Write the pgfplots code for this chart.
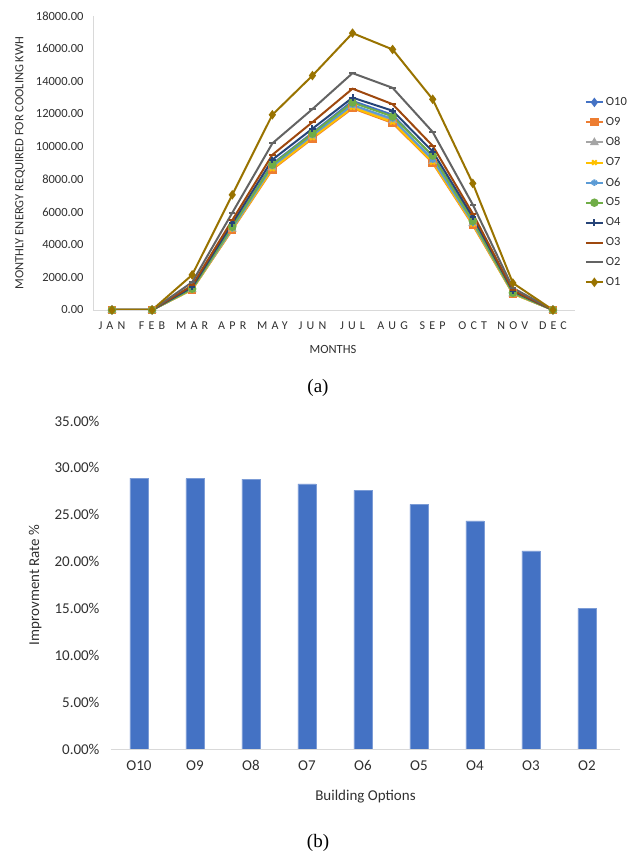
\documentclass[border=0pt]{standalone}
\usepackage{pgfplots}
\pgfplotsset{compat=1.18}
\usepackage{fontspec}
\setmainfont{Carlito}
\newfontfamily\serif{Liberation Serif}
\newfontfamily\monthfont{Carlito}[LetterSpace=35]
\definecolor{cO10}{HTML}{4472C4}
\definecolor{cO9}{HTML}{ED7D31}
\definecolor{cO8}{HTML}{A5A5A5}
\definecolor{cO7}{HTML}{FFC000}
\definecolor{cO6}{HTML}{5B9BD5}
\definecolor{cO5}{HTML}{70AD47}
\definecolor{cO4}{HTML}{264478}
\definecolor{cO3}{HTML}{9E480E}
\definecolor{cO2}{HTML}{636363}
\definecolor{cO1}{HTML}{997300}
\definecolor{txt}{HTML}{303030}
\definecolor{axl}{HTML}{D9D9D9}
\begin{document}
\begin{tikzpicture}[x=1pt,y=1pt]
\path[use as bounding box] (0,0) rectangle (635,856);
\begin{axis}[
  at={(93pt,546pt)}, anchor=south west,
  scale only axis, width=482pt, height=294pt,
  xmin=-0.474, xmax=11.55, ymin=0, ymax=18000,
  xtick={0,...,11},
  xticklabels={JAN,FEB,MAR,APR,MAY,JUN,JUL,AUG,SEP,OCT,NOV,DEC},
  xticklabel style={font=\fontsize{12}{14}\monthfont, text=txt, yshift=-8pt},
  ytick={0,2000,...,18000},
  yticklabel style={font=\fontsize{12.5}{14}\selectfont, text=txt, xshift=-6pt},
  /pgf/number format/assume math mode=true,
  yticklabel={\pgfmathprintnumber[fixed,fixed zerofill,precision=2,1000 sep={}]{\tick}},
  scaled y ticks=false,
  major tick length=0pt,
  axis x line*=bottom, axis y line*=left,
  axis line style={draw=axl, line width=0.8pt, -},
  xlabel={MONTHS},
  ylabel={MONTHLY ENERGY REQUIRED FOR COOLING KWH},
  every axis x label/.style={at={(axis description cs:0.498,-0.133)}, anchor=center, font=\fontsize{12.5}{14}\selectfont, text=txt},
  every axis y label/.style={at={(axis description cs:-0.151,0.5)}, rotate=90, anchor=center, font=\fontsize{12.5}{14}\selectfont, text=txt},
  legend style={at={(1.02,0.73)}, anchor=north west, draw=none, fill=none,
    font=\fontsize{12.5}{14}\selectfont, text=txt, row sep=6.3pt, inner sep=0pt},
  legend cell align=left,
  every axis plot/.append style={line width=2pt, mark size=3.2pt, mark options={solid}},
]
\addplot[color=cO10, mark=diamond*] coordinates {(0,0)(1,0)(2,1300)(3,5050)(4,8950)(5,10850)(6,12800)(7,11950)(8,9400)(9,5550)(10,1100)(11,0)};
\addplot[color=cO9, mark=square*] coordinates {(0,0)(1,0)(2,1250)(3,4900)(4,8600)(5,10500)(6,12350)(7,11450)(8,9000)(9,5200)(10,1000)(11,0)};
\addplot[color=cO8, mark=triangle*] coordinates {(0,0)(1,0)(2,1250)(3,4950)(4,8700)(5,10600)(6,12450)(7,11600)(8,9100)(9,5300)(10,1000)(11,0)};
\addplot[color=cO7, mark=x] coordinates {(0,0)(1,0)(2,1250)(3,4950)(4,8650)(5,10550)(6,12400)(7,11500)(8,9050)(9,5250)(10,1000)(11,0)};
\addplot[color=cO6, mark=asterisk] coordinates {(0,0)(1,0)(2,1300)(3,5000)(4,8800)(5,10700)(6,12550)(7,11700)(8,9200)(9,5350)(10,1050)(11,0)};
\addplot[color=cO5, mark=*] coordinates {(0,0)(1,0)(2,1300)(3,5100)(4,8900)(5,10800)(6,12700)(7,11850)(8,9450)(9,5450)(10,1050)(11,0)};
\addplot[color=cO4, mark=+] coordinates {(0,0)(1,0)(2,1400)(3,5300)(4,9200)(5,11100)(6,13000)(7,12200)(8,9700)(9,5700)(10,1150)(11,0)};
\addplot[color=cO3, mark=-] coordinates {(0,0)(1,0)(2,1500)(3,5500)(4,9500)(5,11500)(6,13550)(7,12600)(8,10050)(9,5900)(10,1200)(11,0)};
\addplot[color=cO2, mark=-] coordinates {(0,0)(1,0)(2,1700)(3,5950)(4,10200)(5,12300)(6,14500)(7,13600)(8,10900)(9,6450)(10,1350)(11,0)};
\addplot[color=cO1, mark=diamond*] coordinates {(0,0)(1,0)(2,2150)(3,7050)(4,11950)(5,14350)(6,16950)(7,15950)(8,12900)(9,7750)(10,1650)(11,0)};
\legend{O10,O9,O8,O7,O6,O5,O4,O3,O2,O1}
\end{axis}
\node[font=\fontsize{19}{22}\serif] at (318,468) {(a)};
\begin{axis}[
  at={(111pt,107pt)}, anchor=south west,
  scale only axis, width=509pt, height=328pt,
  xmin=-0.5, xmax=8.59, ymin=0, ymax=35,
  ybar, bar width=18pt,
  xtick={0,...,8},
  xticklabels={O10,O9,O8,O7,O6,O5,O4,O3,O2},
  xticklabel style={font=\fontsize{15}{17}\selectfont, text=txt, yshift=-8pt},
  ytick={0,5,...,35},
  /pgf/number format/assume math mode=true,
  yticklabel={\pgfmathprintnumber[fixed,fixed zerofill,precision=2]{\tick}\%},
  yticklabel style={font=\fontsize{15}{17}\selectfont, text=txt, xshift=-8pt},
  major tick length=0pt,
  axis x line*=bottom, axis y line*=left,
  x axis line style={draw=axl, line width=0.8pt, -},
  y axis line style={draw=none},
  xlabel={Building Options},
  ylabel={Improvment Rate \%},
  every axis x label/.style={at={(axis description cs:0.5,-0.146)}, anchor=center, font=\fontsize{15}{17}\selectfont, text=txt},
  every axis y label/.style={at={(axis description cs:-0.149,0.5)}, rotate=90, anchor=center, font=\fontsize{15}{17}\selectfont, text=txt},
]
\addplot[fill=cO10, draw=cO10!70!white, line width=0.4pt] coordinates {(0,28.9)(1,28.85)(2,28.8)(3,28.3)(4,27.6)(5,26.1)(6,24.35)(7,21.15)(8,15.0)};
\end{axis}
\node[font=\fontsize{19}{22}\serif] at (318,13) {(b)};
\end{tikzpicture}
\end{document}
